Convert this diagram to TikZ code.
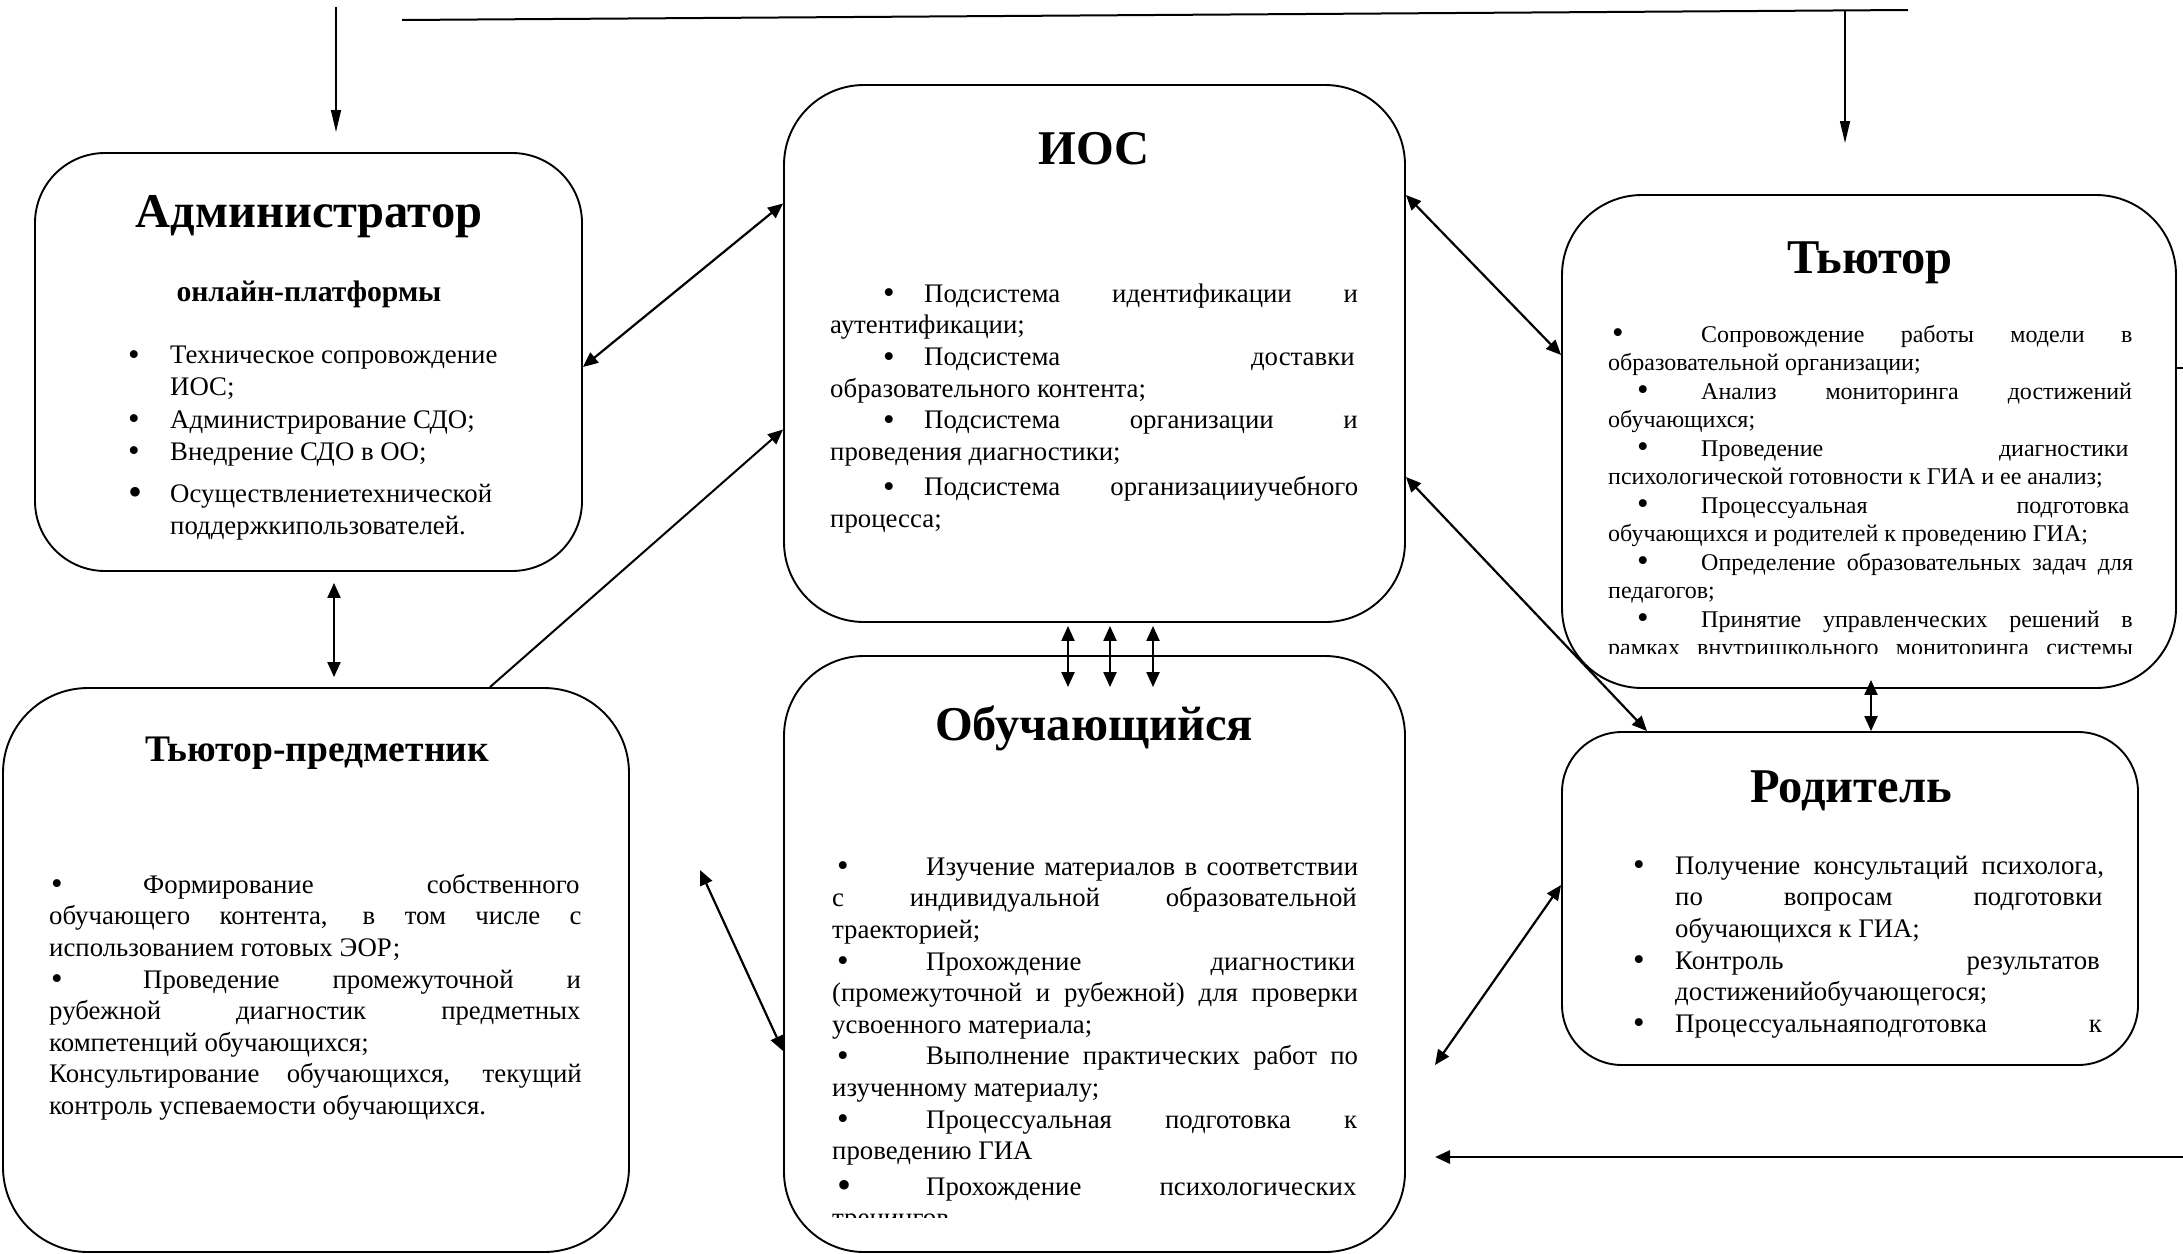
\documentclass[tikz,border=0pt]{standalone}
\usepackage{fontspec}
\setmainfont{Liberation Serif}
\usetikzlibrary{arrows.meta}
\newcommand\fbody{\fontsize{26.8}{31.6}\selectfont\parindent=0pt\parskip=0pt\spaceskip=0.25em plus 30em minus 0.08em\relax}
\newcommand\fsmall{\fontsize{24}{28.5}\selectfont\parindent=0pt\parskip=0pt\spaceskip=0.25em plus 30em minus 0.08em\relax}
\newcommand\fplain{\fontsize{26.8}{32.2}\selectfont\parindent=0pt\parskip=0pt\raggedright\spaceskip=0.25em plus 0.1em minus 0.05em\relax}
\newcommand\bigbul{\raisebox{-1.5pt}{\fontsize{33}{0}\selectfont\textbullet}}
\newcommand\hugebul{\raisebox{-3pt}{\fontsize{40}{0}\selectfont\textbullet}}
\newcommand\bul[2]{\noindent\makebox[#1][l]{\hspace*{#2}\bigbul}}
\newcommand\hitm[1]{\noindent\hangindent=#1\hangafter=1\makebox[#1][l]{\bigbul}}
\tikzset{
  box/.style={draw, line width=1.9pt, inner sep=0pt, rounded corners=80pt},
  title/.style={inner sep=0pt, font=\fontsize{48.5}{52}\selectfont\bfseries},
  ttitle/.style={inner sep=0pt, font=\fontsize{37.5}{42}\selectfont\bfseries},
  subtitle/.style={inner sep=0pt, font=\fontsize{29.7}{34}\selectfont\bfseries},
  body/.style={anchor=north west, inner sep=0pt},
  dbl/.style={arrows={Triangle[length=15pt,width=13pt]-Triangle[length=15pt,width=13pt]}, line width=2.2pt},
  one/.style={arrows={-Triangle[length=15pt,width=13pt]}, line width=2.2pt},
  thinarr/.style={arrows={-Triangle[length=22pt,width=10pt]}, line width=1.4pt},
  plainline/.style={line width=2pt}
}
\begin{document}
\begin{tikzpicture}[x=1pt,y=-1pt]
\useasboundingbox (0,0) rectangle (2183,1253);
\fill[white] (0,0) rectangle (2183,1253);

% boxes
\node[box, rounded corners=70pt, minimum width=547pt, minimum height=418pt] (admin) at (308.5,362) {};
\node[box, minimum width=621pt, minimum height=537pt] (ios) at (1094.5,353.5) {};
\node[box, minimum width=614pt, minimum height=493pt] (tutor) at (1869,441.5) {};
\node[box, rounded corners=85pt, minimum width=626pt, minimum height=564pt] (tpred) at (316,970) {};
\node[box, minimum width=621pt, minimum height=596pt] (obuch) at (1094.5,954) {};
\node[box, rounded corners=60pt, minimum width=576pt, minimum height=333pt] (rod) at (1850,898.5) {};

% titles
\node[title] (t-admin) at (309,217) {Администратор};
\node[subtitle] (t-admin2) at (309,294) {онлайн-платформы};
\node[title] (t-ios) at (1094,149) {ИОС};
\node[title] (t-tutor) at (1870,263) {Тьютор};
\node[ttitle] (t-tpred) at (317,753) {Тьютор-предметник};
\node[title] (t-obuch) at (1094,728) {Обучающийся};
\node[title] (t-rod) at (1851,791) {Родитель};

% body texts
\node[body, text width=400pt] (b-admin) at (128,341) {\fplain
\hitm{42pt}\strut Техническое сопровождение\newline ИОС;\par
\hitm{42pt}Администрирование СДО;\par
\hitm{42pt}Внедрение СДО в ОО;\par\vspace{10pt}
\noindent\hangindent=42pt\hangafter=1\makebox[42pt][l]{\hugebul}Осуществлениетехнической\newline поддержкипользователей.\par};

\node[body, text width=529pt] (b-ios) at (830,280) {\fbody
\bul{94pt}{53pt}\strut Подсистема идентификации и\linebreak аутентификации;\par
\bul{94pt}{53pt}Подсистема доставки\linebreak образовательного контента;\par
\bul{94pt}{53pt}Подсистема организации и\linebreak проведения диагностики;\par\vspace{4pt}
\bul{94pt}{53pt}Подсистема организацииучебного\linebreak процесса;\par};

\begin{scope}
\clip (1562,195) rectangle (2176,653);
\node[body, text width=525pt] (b-tutor) at (1608,322) {\fsmall
\bul{93pt}{4pt}\strut Сопровождение работы модели в\linebreak образовательной организации;\par
\bul{93pt}{29pt}Анализ мониторинга достижений\linebreak обучающихся;\par
\bul{93pt}{29pt}Проведение диагностики\linebreak психологической готовности к ГИА и ее анализ;\par
\bul{93pt}{29pt}Процессуальная подготовка\linebreak обучающихся и родителей к проведению ГИА;\par
\bul{93pt}{29pt}Определение образовательных задач для\linebreak педагогов;\par
\bul{93pt}{29pt}Принятие управленческих решений в\linebreak рамках внутришкольного мониторинга системы\parfillskip=0pt\par};
\end{scope}

\node[body, text width=533pt] (b-tpred) at (49,871) {\fbody
\bul{94pt}{2pt}\strut Формирование собственного\linebreak обучающего контента, в том числе с\linebreak использованием готовых ЭОР;\par
\bul{94pt}{2pt}Проведение промежуточной и\linebreak рубежной диагностик предметных\linebreak компетенций обучающихся;\par
Консультирование обучающихся, текущий\linebreak контроль успеваемости обучающихся.\par};

\begin{scope}
\clip (784,656) rectangle (1405,1217);
\node[body, text width=526pt] (b-obuch) at (832,853) {\fbody
\bul{94pt}{5pt}\strut Изучение материалов в соответствии\linebreak с индивидуальной образовательной\linebreak траекторией;\par
\bul{94pt}{5pt}Прохождение диагностики\linebreak (промежуточной и рубежной) для проверки\linebreak усвоенного материала;\par
\bul{94pt}{5pt}Выполнение практических работ по\linebreak изученному материалу;\par
\bul{94pt}{5pt}Процессуальная подготовка к\linebreak проведению ГИА\par\vspace{4pt}
\noindent\makebox[94pt][l]{\hspace*{5pt}\hugebul}Прохождение психологических\linebreak тренингов\par};
\end{scope}

\node[body, text width=471pt] (b-rod) at (1633,852) {\fbody
\hitm{42pt}\strut Получение консультаций психолога,\linebreak по вопросам подготовки\linebreak обучающихся к ГИА;\par
\hitm{42pt}Контроль результатов\linebreak достиженийобучающегося;\par
\hitm{42pt}Процессуальнаяподготовка к\parfillskip=0pt\par};

% free coordinates
\coordinate (tl1) at (336,7);
\coordinate (tl2) at (336,132);
\coordinate (ln1) at (402,20);
\coordinate (ln2) at (1908,10);
\coordinate (tr1) at (1845,10.4);
\coordinate (tr2) at (1845,143);
\coordinate (fa1) at (700,870);
\coordinate (fa2) at (1435,1065);
\coordinate (br1) at (2183,1157);
\coordinate (br2) at (1435,1157);
\coordinate (stub) at (2183,368);

% connectors
\draw[thinarr] (tl1) -- (tl2);
\draw[plainline] (ln1) -- (ln2);
\draw[thinarr] (tr1) -- (tr2);
\draw[dbl] ([yshift=-5pt]admin.east) -- ([yshift=150pt]ios.west);
\draw[dbl] ([xshift=25.5pt,yshift=-11pt]admin.south) -- ([xshift=18pt,yshift=10pt]tpred.north);
\draw[one, line width=2pt] ([xshift=174pt]tpred.north) -- ([yshift=-76pt]ios.west);
\draw[dbl] ([yshift=158.5pt]ios.east) -- ([yshift=86.5pt]tutor.west);
\draw[dbl] ([yshift=-123.5pt]ios.east) -- ([xshift=-203pt]rod.north);
\draw[dbl] ([xshift=-26.5pt,yshift=-3pt]ios.south) -- ([xshift=-26.5pt,yshift=-32pt]obuch.north);
\draw[dbl] ([xshift=15.5pt,yshift=-3pt]ios.south) -- ([xshift=15.5pt,yshift=-32pt]obuch.north);
\draw[dbl] ([xshift=58.5pt,yshift=-3pt]ios.south) -- ([xshift=58.5pt,yshift=-32pt]obuch.north);
\draw[dbl] ([xshift=2pt,yshift=9pt]tutor.south) -- ([xshift=21pt]rod.north);
\draw[dbl] (fa1) -- ([yshift=-97pt]obuch.west);
\draw[dbl] (fa2) -- ([yshift=13.5pt]rod.west);
\draw[one, line width=2.8pt] (br1) -- (br2);
\draw[plainline] ([yshift=73.5pt]tutor.east) -- (stub);
\end{tikzpicture}
\end{document}
